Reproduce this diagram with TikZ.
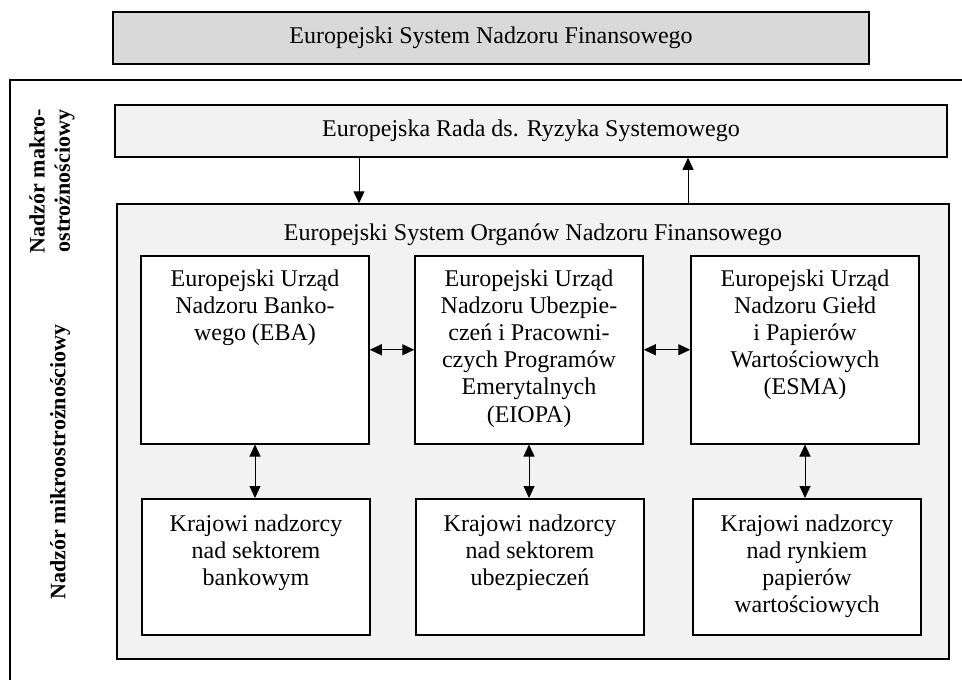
\documentclass[tikz,border=0pt]{standalone}
\usepackage{fontspec}
\setmainfont{Liberation Serif}
\definecolor{esfsGray}{RGB}{217,217,217}
\definecolor{esfsLight}{RGB}{242,242,242}
\usetikzlibrary{arrows.meta,positioning,calc}

\begin{document}
\begin{tikzpicture}[x=0.5pt, y=-0.5pt,
  bx/.style={draw, line width=0.75pt, inner sep=0pt,
             font=\fontsize{12}{13.6}\selectfont, align=center},
  org/.style={bx, fill=white, minimum width=114pt, minimum height=94pt, anchor=north},
  nat/.style={bx, fill=white, minimum width=114pt, minimum height=68pt, anchor=north},
  txt/.style={inner sep=0pt, font=\fontsize{12}{13.6}\selectfont, align=center},
  side/.style={rotate=90, inner sep=0pt, font=\fontsize{11}{12.6}\selectfont\bfseries, align=center},
  arr/.style={-{Triangle[length=6pt,width=5.5pt]}, line width=0.5pt},
  darr/.style={{Triangle[length=6pt,width=5.5pt]}-{Triangle[length=6pt,width=5.5pt]}, line width=0.5pt}
]
  \useasboundingbox (0,0) rectangle (962,680);

  % top level
  \node[bx, fill=esfsGray, minimum width=378pt, minimum height=26pt] (esnf) at (491,38)
    {Europejski System Nadzoru Finansowego};
  \draw[line width=0.75pt] (962,80) -- (10,80) -- (10,680);

  % makro
  \node[bx, fill=esfsLight, minimum width=416pt, minimum height=26pt] (esrb) at (531,131)
    {Europejska Rada ds. Ryzyka Systemowego};

  % mikro
  \node[bx, fill=esfsLight, minimum width=416pt, minimum height=227.5pt] (esfs) at (533,431.5) {};
  \node[txt, below=10pt of esfs.north] (esfsT) {Europejski System Organów Nadzoru Finansowego};

  \node[org] (eba)   at (255,255) {};
  \node[org] (eiopa) at (529,255) {};
  \node[org] (esma)  at (805,255) {};
  \node[txt, below=7pt of eba.north]   (ebaT)   {Europejski Urząd\\Nadzoru Banko-\\wego (EBA)};
  \node[txt, below=7pt of eiopa.north] (eiopaT) {Europejski Urząd\\Nadzoru Ubezpie-\\czeń i Pracowni-\\czych Programów\\Emerytalnych\\(EIOPA)};
  \node[txt, below=7pt of esma.north]  (esmaT)  {Europejski Urząd\\Nadzoru Giełd\\i Papierów\\Wartościowych\\(ESMA)};

  \node[nat] (kban)  at (256,498) {};
  \node[nat] (kubz)  at (530,498) {};
  \node[nat] (kpap)  at (807,498) {};
  \node[txt, below=8pt of kban.north] (kbanT) {Krajowi nadzorcy\\nad sektorem\\bankowym};
  \node[txt, below=8pt of kubz.north] (kubzT) {Krajowi nadzorcy\\nad sektorem\\ubezpieczeń};
  \node[txt, below=8pt of kpap.north] (kpapT) {Krajowi nadzorcy\\nad rynkiem\\papierów\\wartościowych};

  % side labels
  \node[side] (makro) at (52,181) {Nadzór makro-\\ostrożnościowy};
  \node[side] (mikro) at (60,462) {Nadzór mikroostrożnościowy};

  % arrows
  \coordinate (dn) at (359,0);
  \coordinate (up) at (688,0);
  \draw[arr] (esrb.south -| dn) -- (esfs.north -| dn);
  \draw[arr] (esfs.north -| up) -- (esrb.south -| up);
  \draw[darr] (eba) -- (eiopa);
  \draw[darr] (eiopa) -- (esma);
  \draw[darr] (eba.south) -- (eba.south |- kban.north);
  \draw[darr] (eiopa.south) -- (eiopa.south |- kubz.north);
  \draw[darr] (esma.south) -- (esma.south |- kpap.north);
\end{tikzpicture}
\end{document}
